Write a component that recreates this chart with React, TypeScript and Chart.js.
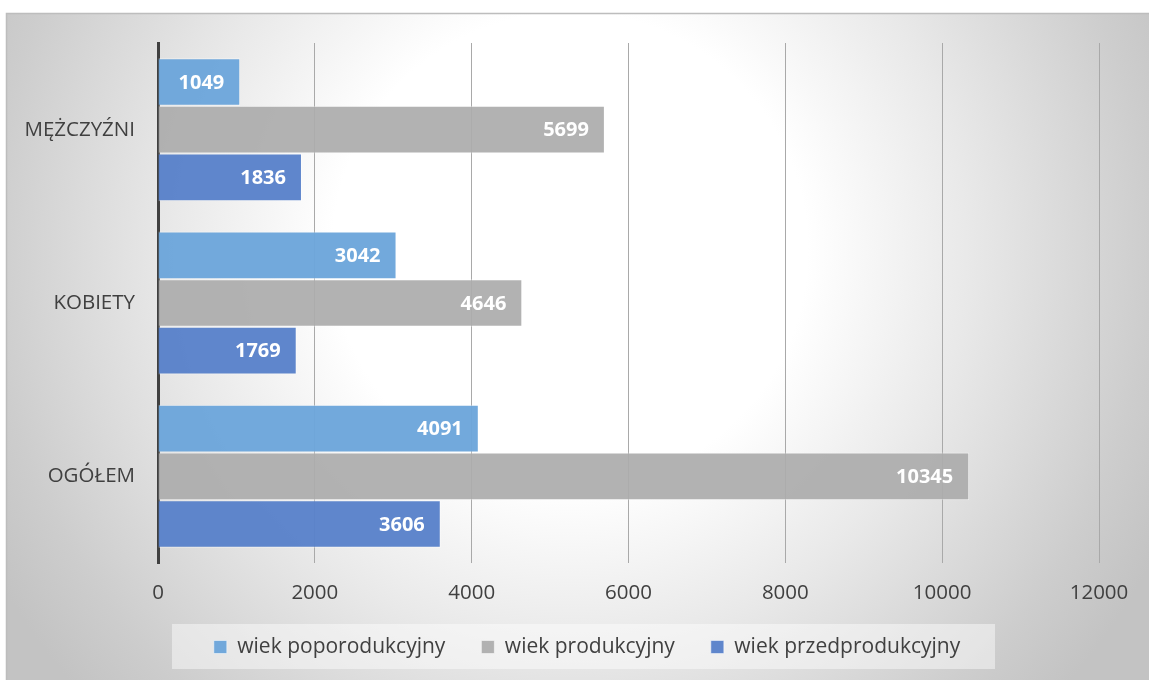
import React, { useEffect, useRef } from "react";
import { Chart, registerables } from "chart.js";

Chart.register(...registerables);

const categories = ["MĘŻCZYŹNI", "KOBIETY", "OGÓŁEM"];
const seriesNames = ["wiek poporodukcyjny", "wiek produkcyjny", "wiek przedprodukcyjny"];
const poporodukcyjny = [1049, 3042, 4091];
const produkcyjny = [5699, 4646, 10345];
const przedprodukcyjny = [1836, 1769, 3606];
const seriesColors = ["rgba(108,166,219,0.96)", "rgba(172,172,172,0.93)", "rgba(88,129,202,0.96)"];
const xMin = 0;
const xMax = 12000;
const xStep = 2000;

const FONT = "'Open Sans', 'DejaVu Sans', sans-serif";
const TEXT = "#404040";
const LEGEND_PAD = 36;
const LEGEND_FONT = 21;
const LEGEND_CENTER_X = 587;
const LEGEND_TEXT_Y = 647;

const bgPlugin = {
  id: "bgPlugin",
  afterLayout(chart: any) {
    const lg = chart.legend;
    if (!lg) return;
    const shift = LEGEND_CENTER_X - (lg.left + lg.right) / 2;
    lg.left += shift;
    lg.right += shift;
    const vshift = LEGEND_TEXT_Y - (lg.top + LEGEND_PAD + LEGEND_FONT / 2);
    lg.top += vshift;
    lg.bottom += vshift;
  },
  beforeDraw(chart: any) {
    const { ctx, width, height } = chart;
    ctx.save();
    ctx.fillStyle = "#ffffff";
    ctx.fillRect(0, 0, width, height);
    const g = ctx.createRadialGradient(570, 250, 0, 570, 250, 660);
    g.addColorStop(0, "#ffffff");
    g.addColorStop(0.36, "#ffffff");
    g.addColorStop(0.6, "#e9e9e9");
    g.addColorStop(0.88, "#cdcdcd");
    g.addColorStop(1, "#c3c3c3");
    ctx.fillStyle = g;
    ctx.fillRect(6, 13, width - 6, height - 13);
    ctx.strokeStyle = "#bdbdbd";
    ctx.lineWidth = 1.5;
    ctx.beginPath();
    ctx.moveTo(6.5, height);
    ctx.lineTo(6.5, 13.5);
    ctx.lineTo(width, 13.5);
    ctx.stroke();
    const lg = chart.legend;
    if (lg) {
      const cx = (lg.left + lg.right) / 2;
      const cy = lg.top + LEGEND_PAD + LEGEND_FONT / 2;
      ctx.fillStyle = "rgba(255,255,255,0.45)";
      ctx.fillRect(cx - 415, cy - 23, 823, 45);
    }
    ctx.restore();
  },
};

const labelPlugin = {
  id: "labelPlugin",
  afterDatasetsDraw(chart: any) {
    const { ctx } = chart;
    ctx.save();
    ctx.fillStyle = "#ffffff";
    ctx.font = `bold 20px ${FONT}`;
    ctx.textAlign = "right";
    ctx.textBaseline = "middle";
    chart.data.datasets.forEach((ds: any, i: number) => {
      const meta = chart.getDatasetMeta(i);
      meta.data.forEach((bar: any, j: number) => {
        ctx.fillText(String(ds.data[j]), bar.x - 16, bar.y + 1);
      });
    });
    ctx.restore();
  },
};

export default function App() {
  const ref = useRef<HTMLCanvasElement | null>(null);
  useEffect(() => {
    if (!ref.current) return;
    const seriesData = [poporodukcyjny, produkcyjny, przedprodukcyjny];
    const chart = new Chart(ref.current, {
      type: "bar",
      data: {
        labels: categories,
        datasets: seriesNames.map((name, i) => ({
          label: name,
          data: seriesData[i],
          backgroundColor: seriesColors[i],
          borderColor: "rgba(255,255,255,0.5)",
          borderWidth: 1,
          categoryPercentage: 0.825,
          barPercentage: 1,
        })),
      },
      options: {
        indexAxis: "y",
        animation: false,
        responsive: false,
        maintainAspectRatio: false,
        layout: { padding: { top: 43, left: 0, right: 50, bottom: 7 } },
        plugins: {
          tooltip: { enabled: false },
          legend: {
            position: "bottom",
            labels: {
              boxWidth: 13,
              boxHeight: 13,
              padding: LEGEND_PAD,
              color: TEXT,
              font: { family: FONT, size: LEGEND_FONT },
            },
          },
        },
        scales: {
          x: {
            min: xMin,
            max: xMax,
            ticks: {
              stepSize: xStep,
              color: TEXT,
              padding: 18,
              font: { family: FONT, size: 20.5 },
              callback: (v: any) => String(v),
            },
            grid: {
              color: (c: any) => (c.tick && c.tick.value === 0 ? "rgba(0,0,0,0)" : "#a9a9a9"),
              lineWidth: 1,
              drawTicks: false,
            },
            border: { display: false },
            afterFit: (s: any) => {
              s.height = 43;
            },
          },
          y: {
            z: 1,
            ticks: {
              color: TEXT,
              padding: 23,
              font: { family: FONT, size: 20.5 },
            },
            grid: { display: false, drawTicks: false },
            border: { display: true, color: "#404040", width: 3 },
            afterFit: (s: any) => {
              s.width = 158;
            },
          },
        },
      },
      plugins: [bgPlugin, labelPlugin],
    } as any);
    return () => chart.destroy();
  }, []);
  return (
    <div style={{ position: "absolute", left: 0, top: 0, width: 1149, height: 680 }}>
      <canvas ref={ref} width={1149} height={680} style={{ display: "block" }} />
    </div>
  );
}
